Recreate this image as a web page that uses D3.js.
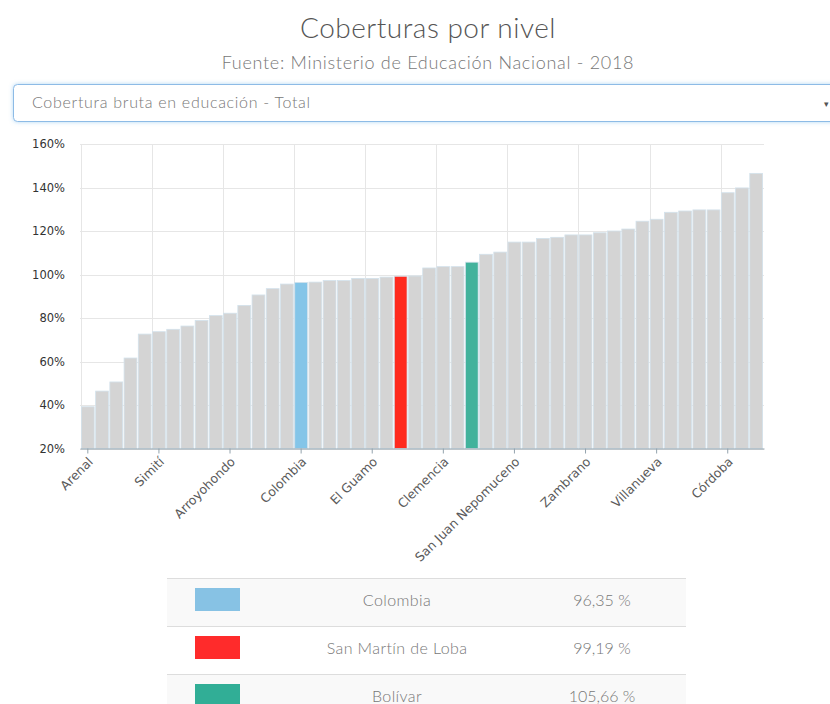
<!DOCTYPE html>
<html>
<head>
<meta charset="utf-8">
<script src="https://cdn.jsdelivr.net/npm/d3@7"></script>
<style>
  body { margin: 0; background: #fff; }
  svg { display: block; }
</style>
</head>
<body>
<svg id="chart" width="830" height="704"></svg>
<script>
// municipios de Bolívar + Colombia + Bolívar, ordenados por cobertura
var categories = ["Arenal","Tiquisio","Montecristo","Norosí","Altos del Rosario","Simití","Achí","Pinillos","Regidor","Barranco de Loba",
  "Arroyohondo","Hatillo de Loba","Cantagallo","San Jacinto del Cauca","Río Viejo","Colombia","Morales","Santa Rosa del Sur","Margarita","Talaigua Nuevo",
  "El Guamo","Soplaviento","San Martín de Loba","San Pablo","El Peñón","Clemencia","Calamar","Bolívar","San Fernando","Cicuco",
  "San Juan Nepomuceno","Santa Catalina","Santa Rosa","Mahates","María la Baja","Zambrano","San Estanislao","Turbaná","Arjona","San Cristóbal",
  "Villanueva","Magangué","Mompós","San Jacinto","El Carmen de Bolívar","Córdoba","Turbaco","Cartagena"]
var values = [39.2,46.4,50.6,61.6,72.6,73.7,74.8,76.3,78.9,81.1,
  82.2,85.8,90.6,93.5,95.6,96.35,96.5,97.2,97.2,98.2,
  98.2,98.8,99.19,99.3,103.0,103.6,103.6,105.66,109.3,110.3,
  114.9,114.9,116.6,117.1,118.2,118.2,119.2,120.0,120.9,124.5,
  125.4,128.6,129.2,129.7,129.7,137.6,139.8,146.5]
var highlightNames = ["Colombia","San Martín de Loba","Bolívar"]
var highlightBar = ["#84c5e8","#ff2a1e","#42b29c"]
var highlightSwatch = ["#87c2e4","#ff2b2b","#31ae96"]
var legendLabels = ["Colombia","San Martín de Loba","Bolívar"]
var legendValues = ["96,35 %","99,19 %","105,66 %"]
var yTicks = [20,40,60,80,100,120,140,160]
var tickEvery = 5

var thin = "Lato, 'Open Sans', sans-serif"
var svg = d3.select("#chart")

// titulos
svg.append("text")
  .attr("x",428).attr("y",38)
  .attr("text-anchor","middle")
  .style("font-family",thin).style("font-weight",300)
  .style("font-size","28px").style("letter-spacing","0.5px").style("fill","#555")
  .text("Coberturas por nivel")
svg.append("text")
  .attr("x",428).attr("y",69)
  .attr("text-anchor","middle")
  .style("font-family",thin).style("font-weight",300)
  .style("font-size","18px").style("letter-spacing","0.7px").style("fill","#777")
  .text("Fuente: Ministerio de Educación Nacional - 2018")

// selector
var defs = svg.append("defs")
var f = defs.append("filter").attr("id","glow").attr("x","-5%").attr("y","-30%").attr("width","110%").attr("height","160%")
f.append("feDropShadow").attr("dx",0).attr("dy",0).attr("stdDeviation",2).attr("flood-color","#66afe9").attr("flood-opacity",0.5)
svg.append("rect")
  .attr("x",13.5).attr("y",84.5).attr("width",840).attr("height",37).attr("rx",4)
  .style("fill","#fff").style("stroke","#8dbbe6").style("stroke-width",1)
  .attr("filter","url(#glow)")
svg.append("text")
  .attr("x",32).attr("y",108)
  .style("font-family",thin).style("font-weight",300)
  .style("font-size","16px").style("letter-spacing","0.7px").style("fill","#777")
  .text("Cobertura bruta en educación - Total")
svg.append("text")
  .attr("x",824).attr("y",107)
  .style("font-family","DejaVu Sans").style("font-size","9px").style("fill","#555")
  .text("▾")

// grafica
var pLeft = 80, pRight = 764, pTop = 144, pBottom = 448.5
var x = d3.scaleBand().domain(categories).range([pLeft,pRight]).paddingInner(0.1).paddingOuter(0.1)
var y = d3.scaleLinear().domain([20,160]).range([pBottom,pTop])

var g = svg.append("g")

// rejilla
g.selectAll(".hgrid").data(yTicks).enter().append("line")
  .attr("x1",pLeft).attr("x2",pRight)
  .attr("y1",d=>Math.round(y(d))+0.5).attr("y2",d=>Math.round(y(d))+0.5)
  .style("stroke","#e6e6e6")
var gridCats = categories.filter((d,i)=>i%tickEvery==0)
g.selectAll(".vgrid").data(gridCats).enter().append("line")
  .attr("x1",d=>Math.round(x(d)-x.step()*0.05)+0.5).attr("x2",d=>Math.round(x(d)-x.step()*0.05)+0.5)
  .attr("y1",pTop).attr("y2",pBottom)
  .style("stroke","#e6e6e6")

// barras
g.selectAll(".bar").data(categories).enter().append("rect")
  .attr("x",d=>x(d))
  .attr("width",x.bandwidth())
  .attr("y",(d,i)=>y(values[i]))
  .attr("height",(d,i)=>pBottom-y(values[i]))
  .style("fill",function(d){
    var k = highlightNames.indexOf(d)
    return k<0 ? "#d4d4d4" : highlightBar[k]
  })
  .style("stroke","#d3e2ec").style("stroke-width",0.8)

// eje y
g.selectAll(".ylab").data(yTicks).enter().append("text")
  .attr("x",65).attr("y",d=>y(d))
  .attr("dy","0.35em")
  .attr("text-anchor","end")
  .style("font-family","DejaVu Sans").style("font-size","11.5px").style("fill","#333")
  .text(d=>d+"%")

// eje x
var xAxis = d3.axisBottom(x).tickValues(gridCats).tickSize(5).tickSizeOuter(0)
var ax = g.append("g").attr("transform","translate(0,"+pBottom+")").call(xAxis)
ax.select(".domain").style("stroke","#93a3ad")
ax.selectAll(".tick line").style("stroke","#93a3ad")
ax.selectAll(".tick text")
  .style("font-family","DejaVu Sans").style("font-size","12.5px").style("fill","#5a5a5a")
  .attr("text-anchor","end")
  .attr("x",0).attr("y",0).attr("dy",0)
  .attr("transform","translate(6,14) rotate(-45)")

// tabla leyenda
var tl = 167, tr = 686, rowH = 48, rowTop = 578
var rows = svg.append("g").selectAll(".row").data(legendLabels).enter().append("g")
  .attr("transform",(d,i)=>"translate(0,"+(rowTop+i*rowH)+")")
rows.append("rect")
  .attr("x",tl).attr("width",tr-tl).attr("height",rowH)
  .style("fill",(d,i)=>i%2==0 ? "#f9f9f9" : "#fff")
rows.append("line")
  .attr("x1",tl).attr("x2",tr).attr("y1",0.5).attr("y2",0.5)
  .style("stroke","#dddddd")
rows.append("rect")
  .attr("x",195).attr("y",10).attr("width",45).attr("height",23)
  .style("fill",(d,i)=>highlightSwatch[i])
rows.append("text")
  .attr("x",397).attr("y",22).attr("dy","0.35em")
  .attr("text-anchor","middle")
  .style("font-family",thin).style("font-weight",300)
  .style("font-size","16px").style("letter-spacing","0.4px").style("fill","#777")
  .text(d=>d)
rows.append("text")
  .attr("x",602).attr("y",22).attr("dy","0.35em")
  .attr("text-anchor","middle")
  .style("font-family",thin).style("font-weight",300)
  .style("font-size","16px").style("fill","#777")
  .text((d,i)=>legendValues[i])
</script>
</body>
</html>
